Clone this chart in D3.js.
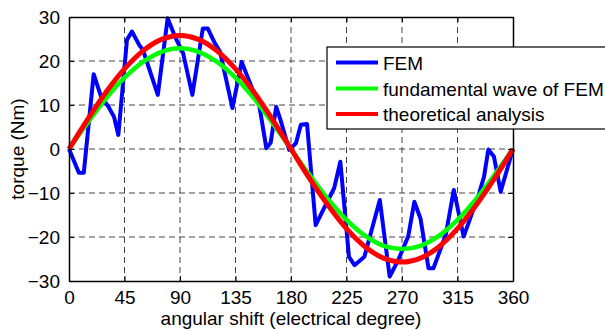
<!DOCTYPE html>
<html>
<head>
<meta charset="utf-8">
<script src="https://cdn.jsdelivr.net/npm/d3@7"></script>
<style>
  body { margin: 0; background: #fff; }
  svg { display: block; font-family: "Liberation Sans", Arial, sans-serif; }
</style>
</head>
<body>
<div id="chart"></div>
<script>
// FEM torque (angle in electrical degrees, torque in Nm)
const femAngle = [0, 8, 12, 20, 26, 32, 36.5, 40, 47, 51, 57, 60, 72, 80, 86, 92.5, 100, 108.5, 112.5, 118, 122.5,
  132.5, 140, 150, 154, 160, 163.5, 168, 171.5, 178.5, 184, 188, 193, 200, 206, 215, 220, 227, 231.5, 239.5,
  252, 260, 267, 275, 280, 285, 291.5, 295.5, 305.5, 312, 320, 332.5, 336.5, 340, 344.5, 350, 360];
const femTorque = [0, -5.4, -5.4, 17, 11.9, 9.6, 7.3, 3.2, 24.8, 26.7, 23.6, 22.5, 12.3, 29.7, 25.5, 21.8, 12.3, 27.4, 27.4, 24.2, 22.1,
  9.3, 19.8, 12.7, 10.4, 0.2, 1.4, 9.6, 6.6, -0.2, 1.3, 5.5, 5.7, -17.3, -13.9, -8.9, -2.9, -24.5, -26.4, -24.5,
  -11.6, -29, -25.2, -19.9, -12, -15.8, -27.1, -27.1, -19.5, -9.3, -19.9, -10.1, -6.3, -0.1, -1.7, -9.7, 0];

// smooth curves, sampled every 15 degrees
const smoothAngle = [0, 15, 30, 45, 60, 75, 90, 105, 120, 135, 150, 165, 180, 195, 210, 225, 240, 255, 270, 285, 300, 315, 330, 345, 360];
const fundTorque = [0, 5.9, 11.5, 16.2, 19.8, 22.1, 22.9, 22.1, 19.8, 16.2, 11.5, 5.9, 0, -5.9, -11.4, -16.1, -19.7, -22, -22.7, -22, -19.7, -16.1, -11.4, -5.9, 0];
const theoTorque = [0, 6.7, 12.9, 18.2, 22.3, 24.9, 25.8, 24.9, 22.3, 18.2, 12.9, 6.7, 0, -6.7, -12.8, -18.1, -22.2, -24.8, -25.7, -24.8, -22.2, -18.1, -12.8, -6.7, 0];

const xTicks = [0, 45, 90, 135, 180, 225, 270, 315, 360];
const yTicks = [-30, -20, -10, 0, 10, 20, 30];

const seriesNames = ["FEM", "fundamental wave of FEM", "theoretical analysis"];
const seriesColors = ["#0000ff", "#00ff00", "#ff0000"];

const width = 605, height = 330;
const margin = { top: 17, right: 92, bottom: 49, left: 69 };
const plotWidth = width - margin.left - margin.right;
const plotHeight = height - margin.top - margin.bottom;
const fontSize = "19px";

const svg = d3.select("#chart").append("svg").attr("width", width).attr("height", height);
const g = svg.append("g").attr("transform", `translate(${margin.left},${margin.top})`);

const x = d3.scaleLinear().domain([0, 360]).range([0, plotWidth]);
const y = d3.scaleLinear().domain([-30, 30]).range([plotHeight, 0]);

// dashed grid
g.append("g")
  .selectAll("line")
  .data(xTicks.slice(1, -1))
  .join("line")
  .attr("x1", d => x(d)).attr("x2", d => x(d))
  .attr("y1", 0).attr("y2", plotHeight)
  .attr("stroke", "#444").attr("stroke-width", 1).attr("stroke-dasharray", "6,4");
g.append("g")
  .selectAll("line")
  .data(yTicks.slice(1, -1))
  .join("line")
  .attr("y1", d => y(d)).attr("y2", d => y(d))
  .attr("x1", 0).attr("x2", plotWidth)
  .attr("stroke", "#444").attr("stroke-width", 1).attr("stroke-dasharray", "6,4");

// curves
const femData = femAngle.map((a, i) => [a, femTorque[i]]);
const fundData = smoothAngle.map((a, i) => [a, fundTorque[i]]);
const theoData = smoothAngle.map((a, i) => [a, theoTorque[i]]);

const rough = d3.line().x(d => x(d[0])).y(d => y(d[1]));
const smooth = d3.line().x(d => x(d[0])).y(d => y(d[1])).curve(d3.curveCatmullRom);

g.append("path").datum(femData).attr("d", rough)
  .attr("fill", "none").attr("stroke", seriesColors[0]).attr("stroke-width", 4).attr("stroke-linejoin", "round");
g.append("path").datum(fundData).attr("d", smooth)
  .attr("fill", "none").attr("stroke", seriesColors[1]).attr("stroke-width", 4.5);
g.append("path").datum(theoData).attr("d", smooth)
  .attr("fill", "none").attr("stroke", seriesColors[2]).attr("stroke-width", 5);

// axes with inward ticks on all four sides
const axBottom = g.append("g").attr("transform", `translate(0,${plotHeight})`)
  .call(d3.axisBottom(x).tickValues(xTicks).tickSizeInner(-5).tickSizeOuter(0).tickPadding(10));
const axTop = g.append("g")
  .call(d3.axisTop(x).tickValues(xTicks).tickSizeInner(-5).tickSizeOuter(0).tickFormat(""));
const axLeft = g.append("g")
  .call(d3.axisLeft(y).tickValues(yTicks).tickSizeInner(-5).tickSizeOuter(0).tickPadding(9));
const axRight = g.append("g").attr("transform", `translate(${plotWidth},0)`)
  .call(d3.axisRight(y).tickValues(yTicks).tickSizeInner(-5).tickSizeOuter(0).tickFormat(""));

[axBottom, axTop, axLeft, axRight].forEach(ax => {
  ax.select(".domain").attr("stroke", "#000").attr("stroke-width", 1.5);
  ax.selectAll(".tick line").attr("stroke", "#000");
  ax.selectAll(".tick text").style("font-size", fontSize).attr("fill", "#000")
    .style("font-family", "'Liberation Sans', Arial, sans-serif");
});

// axis titles
svg.append("text")
  .attr("x", margin.left + plotWidth / 2).attr("y", 325)
  .attr("text-anchor", "middle").style("font-size", fontSize)
  .text("angular shift (electrical degree)");
svg.append("text")
  .attr("transform", `translate(24,${margin.top + plotHeight / 2}) rotate(-90)`)
  .attr("text-anchor", "middle").style("font-size", fontSize)
  .text("torque (Nm)");

// legend
const legend = svg.append("g").attr("transform", "translate(327,47)");
legend.append("rect")
  .attr("width", 300).attr("height", 82)
  .attr("fill", "#fff").attr("stroke", "#000").attr("stroke-width", 1.2);
const rowY = [15.5, 41.5, 67];
seriesNames.forEach((name, i) => {
  legend.append("line")
    .attr("x1", 9).attr("x2", 51).attr("y1", rowY[i]).attr("y2", rowY[i])
    .attr("stroke", seriesColors[i]).attr("stroke-width", 4);
  legend.append("text")
    .attr("x", 56).attr("y", rowY[i] + 7)
    .style("font-size", fontSize)
    .text(name);
});
</script>
</body>
</html>
